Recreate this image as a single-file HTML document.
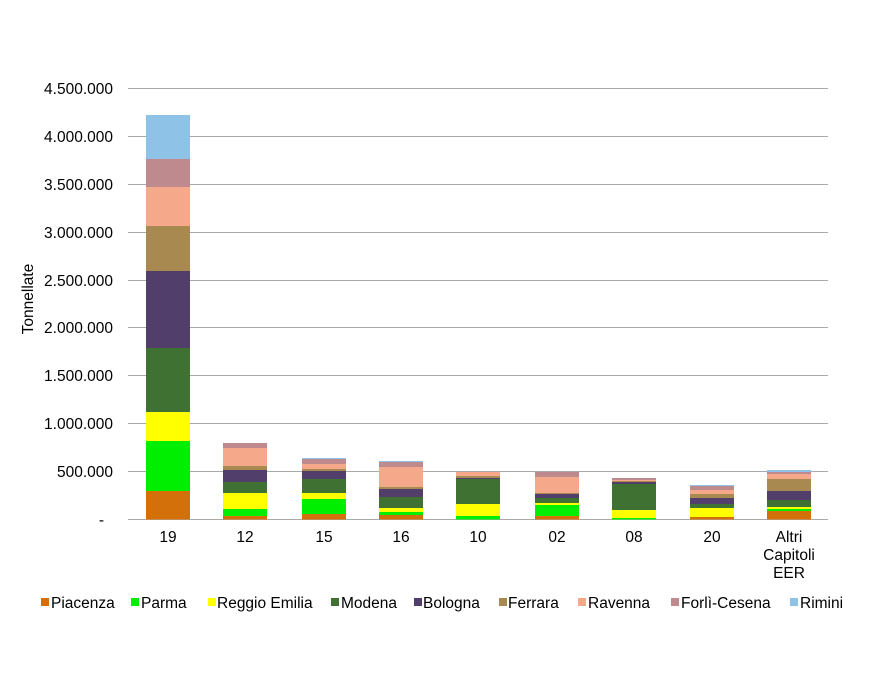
<!DOCTYPE html><html><head><style>body{margin:0;background:#fff}text{font-family:"Liberation Sans",sans-serif;font-size:15.5px;fill:#000}</style></head><body>
<svg width="882" height="682" xmlns="http://www.w3.org/2000/svg">
<g stroke="#aaa" stroke-width="1">
<line x1="128" x2="828" y1="88.5" y2="88.5"/><line x1="128" x2="828" y1="136.5" y2="136.5"/><line x1="128" x2="828" y1="184.5" y2="184.5"/><line x1="128" x2="828" y1="232.5" y2="232.5"/><line x1="128" x2="828" y1="280.5" y2="280.5"/><line x1="128" x2="828" y1="327.5" y2="327.5"/><line x1="128" x2="828" y1="375.5" y2="375.5"/><line x1="128" x2="828" y1="423.5" y2="423.5"/><line x1="128" x2="828" y1="471.5" y2="471.5"/><line x1="128" x2="828" y1="519.5" y2="519.5"/>
</g>
<g text-anchor="end">
<text x="113" y="94">4.500.000</text><text x="113" y="142">4.000.000</text><text x="113" y="190">3.500.000</text><text x="113" y="238">3.000.000</text><text x="113" y="286">2.500.000</text><text x="113" y="333">2.000.000</text><text x="113" y="381">1.500.000</text><text x="113" y="429">1.000.000</text><text x="113" y="477">500.000</text><text x="104" y="525">-</text>
</g>
<text transform="translate(33,299) rotate(-90)" text-anchor="middle">Tonnellate</text>
<g>
<g transform="translate(146,0)">
<rect width="44" y="491" height="28.5" fill="#d4700a"/><rect width="44" y="441" height="50" fill="#00ee00"/><rect width="44" y="412" height="29" fill="#ffff00"/><rect width="44" y="348" height="64" fill="#3e7132"/><rect width="44" y="271" height="77" fill="#523e6a"/><rect width="44" y="226" height="45" fill="#a88950"/><rect width="44" y="187" height="39" fill="#f5a98a"/><rect width="44" y="159" height="28" fill="#be8a8e"/><rect width="44" y="115" height="44" fill="#8ec2e6"/>
</g>
<g transform="translate(223,0)">
<rect width="44" y="516" height="3.5" fill="#d4700a"/><rect width="44" y="509" height="7" fill="#00ee00"/><rect width="44" y="493" height="16" fill="#ffff00"/><rect width="44" y="482" height="11" fill="#3e7132"/><rect width="44" y="470" height="12" fill="#523e6a"/><rect width="44" y="466" height="4" fill="#a88950"/><rect width="44" y="448" height="18" fill="#f5a98a"/><rect width="44" y="443" height="5" fill="#be8a8e"/>
</g>
<g transform="translate(302,0)">
<rect width="44" y="514" height="5.5" fill="#d4700a"/><rect width="44" y="499" height="15" fill="#00ee00"/><rect width="44" y="493" height="6" fill="#ffff00"/><rect width="44" y="479" height="14" fill="#3e7132"/><rect width="44" y="471" height="8" fill="#523e6a"/><rect width="44" y="469" height="2" fill="#a88950"/><rect width="44" y="464" height="5" fill="#f5a98a"/><rect width="44" y="459" height="5" fill="#be8a8e"/><rect width="44" y="458" height="1" fill="#8ec2e6"/>
</g>
<g transform="translate(379,0)">
<rect width="44" y="515" height="4.5" fill="#d4700a"/><rect width="44" y="512" height="3" fill="#00ee00"/><rect width="44" y="508" height="4" fill="#ffff00"/><rect width="44" y="497" height="11" fill="#3e7132"/><rect width="44" y="489" height="8" fill="#523e6a"/><rect width="44" y="487" height="2" fill="#a88950"/><rect width="44" y="467" height="20" fill="#f5a98a"/><rect width="44" y="462" height="5" fill="#be8a8e"/><rect width="44" y="461" height="1" fill="#8ec2e6"/>
</g>
<g transform="translate(456,0)">
<rect width="44" y="516" height="3.5" fill="#00ee00"/><rect width="44" y="504" height="12" fill="#ffff00"/><rect width="44" y="479" height="25" fill="#3e7132"/><rect width="44" y="478" height="1" fill="#523e6a"/><rect width="44" y="476" height="2" fill="#a88950"/><rect width="44" y="472" height="4" fill="#f5a98a"/>
</g>
<g transform="translate(535,0)">
<rect width="44" y="516" height="3.5" fill="#d4700a"/><rect width="44" y="505" height="11" fill="#00ee00"/><rect width="44" y="503" height="2" fill="#ffff00"/><rect width="44" y="498" height="5" fill="#3e7132"/><rect width="44" y="494" height="4" fill="#523e6a"/><rect width="44" y="493" height="1" fill="#a88950"/><rect width="44" y="477" height="16" fill="#f5a98a"/><rect width="44" y="472" height="5" fill="#be8a8e"/>
</g>
<g transform="translate(612,0)">
<rect width="44" y="518" height="1.5" fill="#00ee00"/><rect width="44" y="510" height="8" fill="#ffff00"/><rect width="44" y="484" height="26" fill="#3e7132"/><rect width="44" y="482" height="2" fill="#523e6a"/><rect width="44" y="481" height="1" fill="#a88950"/><rect width="44" y="480" height="1" fill="#f5a98a"/><rect width="44" y="478" height="2" fill="#be8a8e"/>
</g>
<g transform="translate(690,0)">
<rect width="44" y="517" height="2.5" fill="#d4700a"/><rect width="44" y="508" height="9" fill="#ffff00"/><rect width="44" y="504" height="4" fill="#3e7132"/><rect width="44" y="498" height="6" fill="#523e6a"/><rect width="44" y="494" height="4" fill="#a88950"/><rect width="44" y="490" height="4" fill="#f5a98a"/><rect width="44" y="486" height="4" fill="#be8a8e"/><rect width="44" y="485" height="1" fill="#8ec2e6"/>
</g>
<g transform="translate(767,0)">
<rect width="44" y="511" height="8.5" fill="#d4700a"/><rect width="44" y="509" height="2" fill="#00ee00"/><rect width="44" y="507" height="2" fill="#ffff00"/><rect width="44" y="500" height="7" fill="#3e7132"/><rect width="44" y="491" height="9" fill="#523e6a"/><rect width="44" y="479" height="12" fill="#a88950"/><rect width="44" y="474" height="5" fill="#f5a98a"/><rect width="44" y="472" height="2" fill="#be8a8e"/><rect width="44" y="470" height="2" fill="#8ec2e6"/>
</g>
</g>
<g text-anchor="middle">
<text x="168" y="542">19</text><text x="245" y="542">12</text><text x="324" y="542">15</text><text x="401" y="542">16</text><text x="478" y="542">10</text><text x="557" y="542">02</text><text x="634" y="542">08</text><text x="712" y="542">20</text><text x="789" y="542">Altri</text><text x="789" y="560">Capitoli</text><text x="789" y="578">EER</text>
</g>
<g>
<rect x="41" y="598" width="8" height="8" fill="#d4700a"/><text x="51" y="608">Piacenza</text>
<rect x="131" y="598" width="8" height="8" fill="#00ee00"/><text x="141" y="608">Parma</text>
<rect x="208" y="598" width="8" height="8" fill="#ffff00"/><text x="217" y="608">Reggio Emilia</text>
<rect x="331" y="598" width="8" height="8" fill="#3e7132"/><text x="341" y="608">Modena</text>
<rect x="414" y="598" width="8" height="8" fill="#523e6a"/><text x="423" y="608">Bologna</text>
<rect x="499" y="598" width="8" height="8" fill="#a88950"/><text x="508" y="608">Ferrara</text>
<rect x="578" y="598" width="8" height="8" fill="#f5a98a"/><text x="588" y="608">Ravenna</text>
<rect x="671" y="598" width="8" height="8" fill="#be8a8e"/><text x="681" y="608">Forlì-Cesena</text>
<rect x="790" y="598" width="8" height="8" fill="#8ec2e6"/><text x="800" y="608">Rimini</text>
</g>
</svg></body></html>
